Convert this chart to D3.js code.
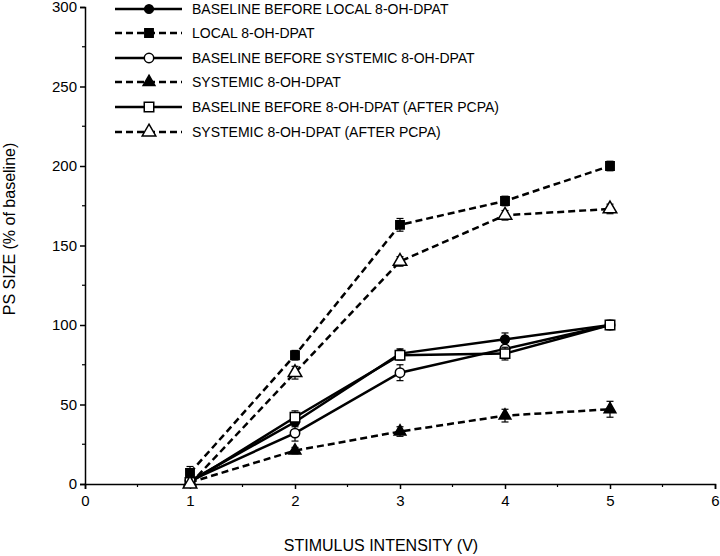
<!DOCTYPE html>
<html><head><meta charset="utf-8">
<script src="https://cdn.jsdelivr.net/npm/d3@7"></script>
<style>body{margin:0;background:#fff}svg{display:block}text{font-family:"Liberation Sans",Arial,Helvetica,sans-serif;fill:#000}</style>
</head><body>
<script>
const voltages = [1, 2, 3, 4, 5];
const seriesNames = [
  "BASELINE BEFORE LOCAL 8-OH-DPAT",
  "LOCAL 8-OH-DPAT",
  "BASELINE BEFORE SYSTEMIC 8-OH-DPAT",
  "SYSTEMIC 8-OH-DPAT",
  "BASELINE BEFORE 8-OH-DPAT (AFTER PCPA)",
  "SYSTEMIC 8-OH-DPAT (AFTER PCPA)"
];
const baseLocal = [2, 39, 82, 91, 100];
const baseLocalErr = [2, 3, 3, 4, 2];
const local = [7, 81, 163, 178, 200];
const localErr = [4, 3, 4, 3, 3];
const baseSys = [2, 32, 70, 85, 100];
const baseSysErr = [2, 5, 5, 4, 2];
const sys = [1, 21, 33, 43, 47];
const sysErr = [1, 2, 3, 4, 5];
const basePcpa = [1, 42, 81, 82, 100];
const basePcpaErr = [1, 4, 3, 4, 3];
const sysPcpa = [0, 70, 140, 169, 173];
const sysPcpaErr = [1, 4, 3, 3, 3];
const yTicks = [0, 50, 100, 150, 200, 250, 300];
const xTicks = [0, 1, 2, 3, 4, 5, 6];

const series = [
  {name: seriesNames[0], vals: baseLocal, err: baseLocalErr, dash: false, sym: d3.symbolCircle, fill: true, size: 60},
  {name: seriesNames[1], vals: local, err: localErr, dash: true, sym: d3.symbolSquare, fill: true, size: 70},
  {name: seriesNames[2], vals: baseSys, err: baseSysErr, dash: false, sym: d3.symbolCircle, fill: false, size: 70},
  {name: seriesNames[3], vals: sys, err: sysErr, dash: true, sym: d3.symbolTriangle, fill: true, size: 60},
  {name: seriesNames[4], vals: basePcpa, err: basePcpaErr, dash: false, sym: d3.symbolSquare, fill: false, size: 90},
  {name: seriesNames[5], vals: sysPcpa, err: sysPcpaErr, dash: true, sym: d3.symbolTriangle, fill: false, size: 80}
];

const W = 720, H = 556;
const svg = d3.select("body").append("svg").attr("width", W).attr("height", H);
const x = d3.scaleLinear().domain([0, 6]).range([85, 715]);
const y = d3.scaleLinear().domain([0, 300]).range([484, 7]);

// axes
const yAxis = d3.axisLeft(y).tickValues(yTicks).tickFormat(d3.format("d")).tickSize(5).tickPadding(3);
const gy = svg.append("g").attr("transform", `translate(${x(0)},0)`).call(yAxis);
gy.selectAll("text").style("font-size", "15px");
gy.select(".domain").attr("stroke-width", 1.5);
gy.selectAll(".tick line").attr("stroke-width", 1.5);
const yMinor = d3.range(25, 300, 50);
svg.append("g").selectAll("line").data(yMinor).join("line")
  .attr("x1", x(0) - 3).attr("x2", x(0)).attr("y1", d => y(d)).attr("y2", d => y(d))
  .attr("stroke", "#000").attr("stroke-width", 1.2);

const xAxis = d3.axisBottom(x).tickValues(xTicks).tickFormat(d3.format("d")).tickSize(5).tickPadding(6);
const gx = svg.append("g").attr("transform", `translate(0,${y(0)})`).call(xAxis);
gx.selectAll("text").style("font-size", "15px");
gx.select(".domain").attr("stroke-width", 1.5);
gx.selectAll(".tick line").attr("stroke-width", 1.5);
const xMinor = d3.range(0.5, 6, 1);
svg.append("g").selectAll("line").data(xMinor).join("line")
  .attr("x1", d => x(d)).attr("x2", d => x(d)).attr("y1", y(0)).attr("y2", y(0) + 3)
  .attr("stroke", "#000").attr("stroke-width", 1.2);

svg.append("text").attr("x", 381).attr("y", 551).attr("text-anchor", "middle")
  .style("font-size", "16px").text("STIMULUS INTENSITY (V)");
svg.append("text").attr("transform", "translate(15,229) rotate(-90)").attr("text-anchor", "middle")
  .style("font-size", "16px").text("PS SIZE (% of baseline)");

// lines
const line = d3.line().x((d, i) => x(voltages[i])).y(d => y(d));
const plot = svg.append("g");
series.forEach(s => {
  plot.append("path").datum(s.vals).attr("d", line).attr("fill", "none")
    .attr("stroke", "#000").attr("stroke-width", 2.5)
    .attr("stroke-dasharray", s.dash ? "7,4" : null);
});
// error bars and markers
series.forEach(s => {
  const g = plot.append("g");
  s.vals.forEach((v, i) => {
    const cx = x(voltages[i]), e = s.err[i];
    g.append("line").attr("x1", cx).attr("x2", cx).attr("y1", y(v - e)).attr("y2", y(v + e))
      .attr("stroke", "#000").attr("stroke-width", 1.2);
    [v - e, v + e].forEach(t => g.append("line").attr("x1", cx - 3.5).attr("x2", cx + 3.5)
      .attr("y1", y(t)).attr("y2", y(t)).attr("stroke", "#000").attr("stroke-width", 1.2));
    g.append("path").attr("d", d3.symbol().type(s.sym).size(s.size)())
      .attr("transform", `translate(${cx},${y(v)})`)
      .attr("fill", s.fill ? "#000" : "#fff").attr("stroke", "#000").attr("stroke-width", 1.5);
  });
});

// legend
const leg = svg.append("g");
const legRows = [9, 33, 58, 82, 107, 132];
series.forEach((s, i) => {
  const ly = legRows[i];
  leg.append("line").attr("x1", 115).attr("x2", 182).attr("y1", ly).attr("y2", ly)
    .attr("stroke", "#000").attr("stroke-width", 2.5).attr("stroke-dasharray", s.dash ? "7,4" : null);
  leg.append("path").attr("d", d3.symbol().type(s.sym).size(s.size)())
    .attr("transform", `translate(149,${ly})`)
    .attr("fill", s.fill ? "#000" : "#fff").attr("stroke", "#000").attr("stroke-width", 1.5);
  leg.append("text").attr("x", 192).attr("y", ly + 5).style("font-size", "14px").text(s.name);
});
</script>
</body></html>
